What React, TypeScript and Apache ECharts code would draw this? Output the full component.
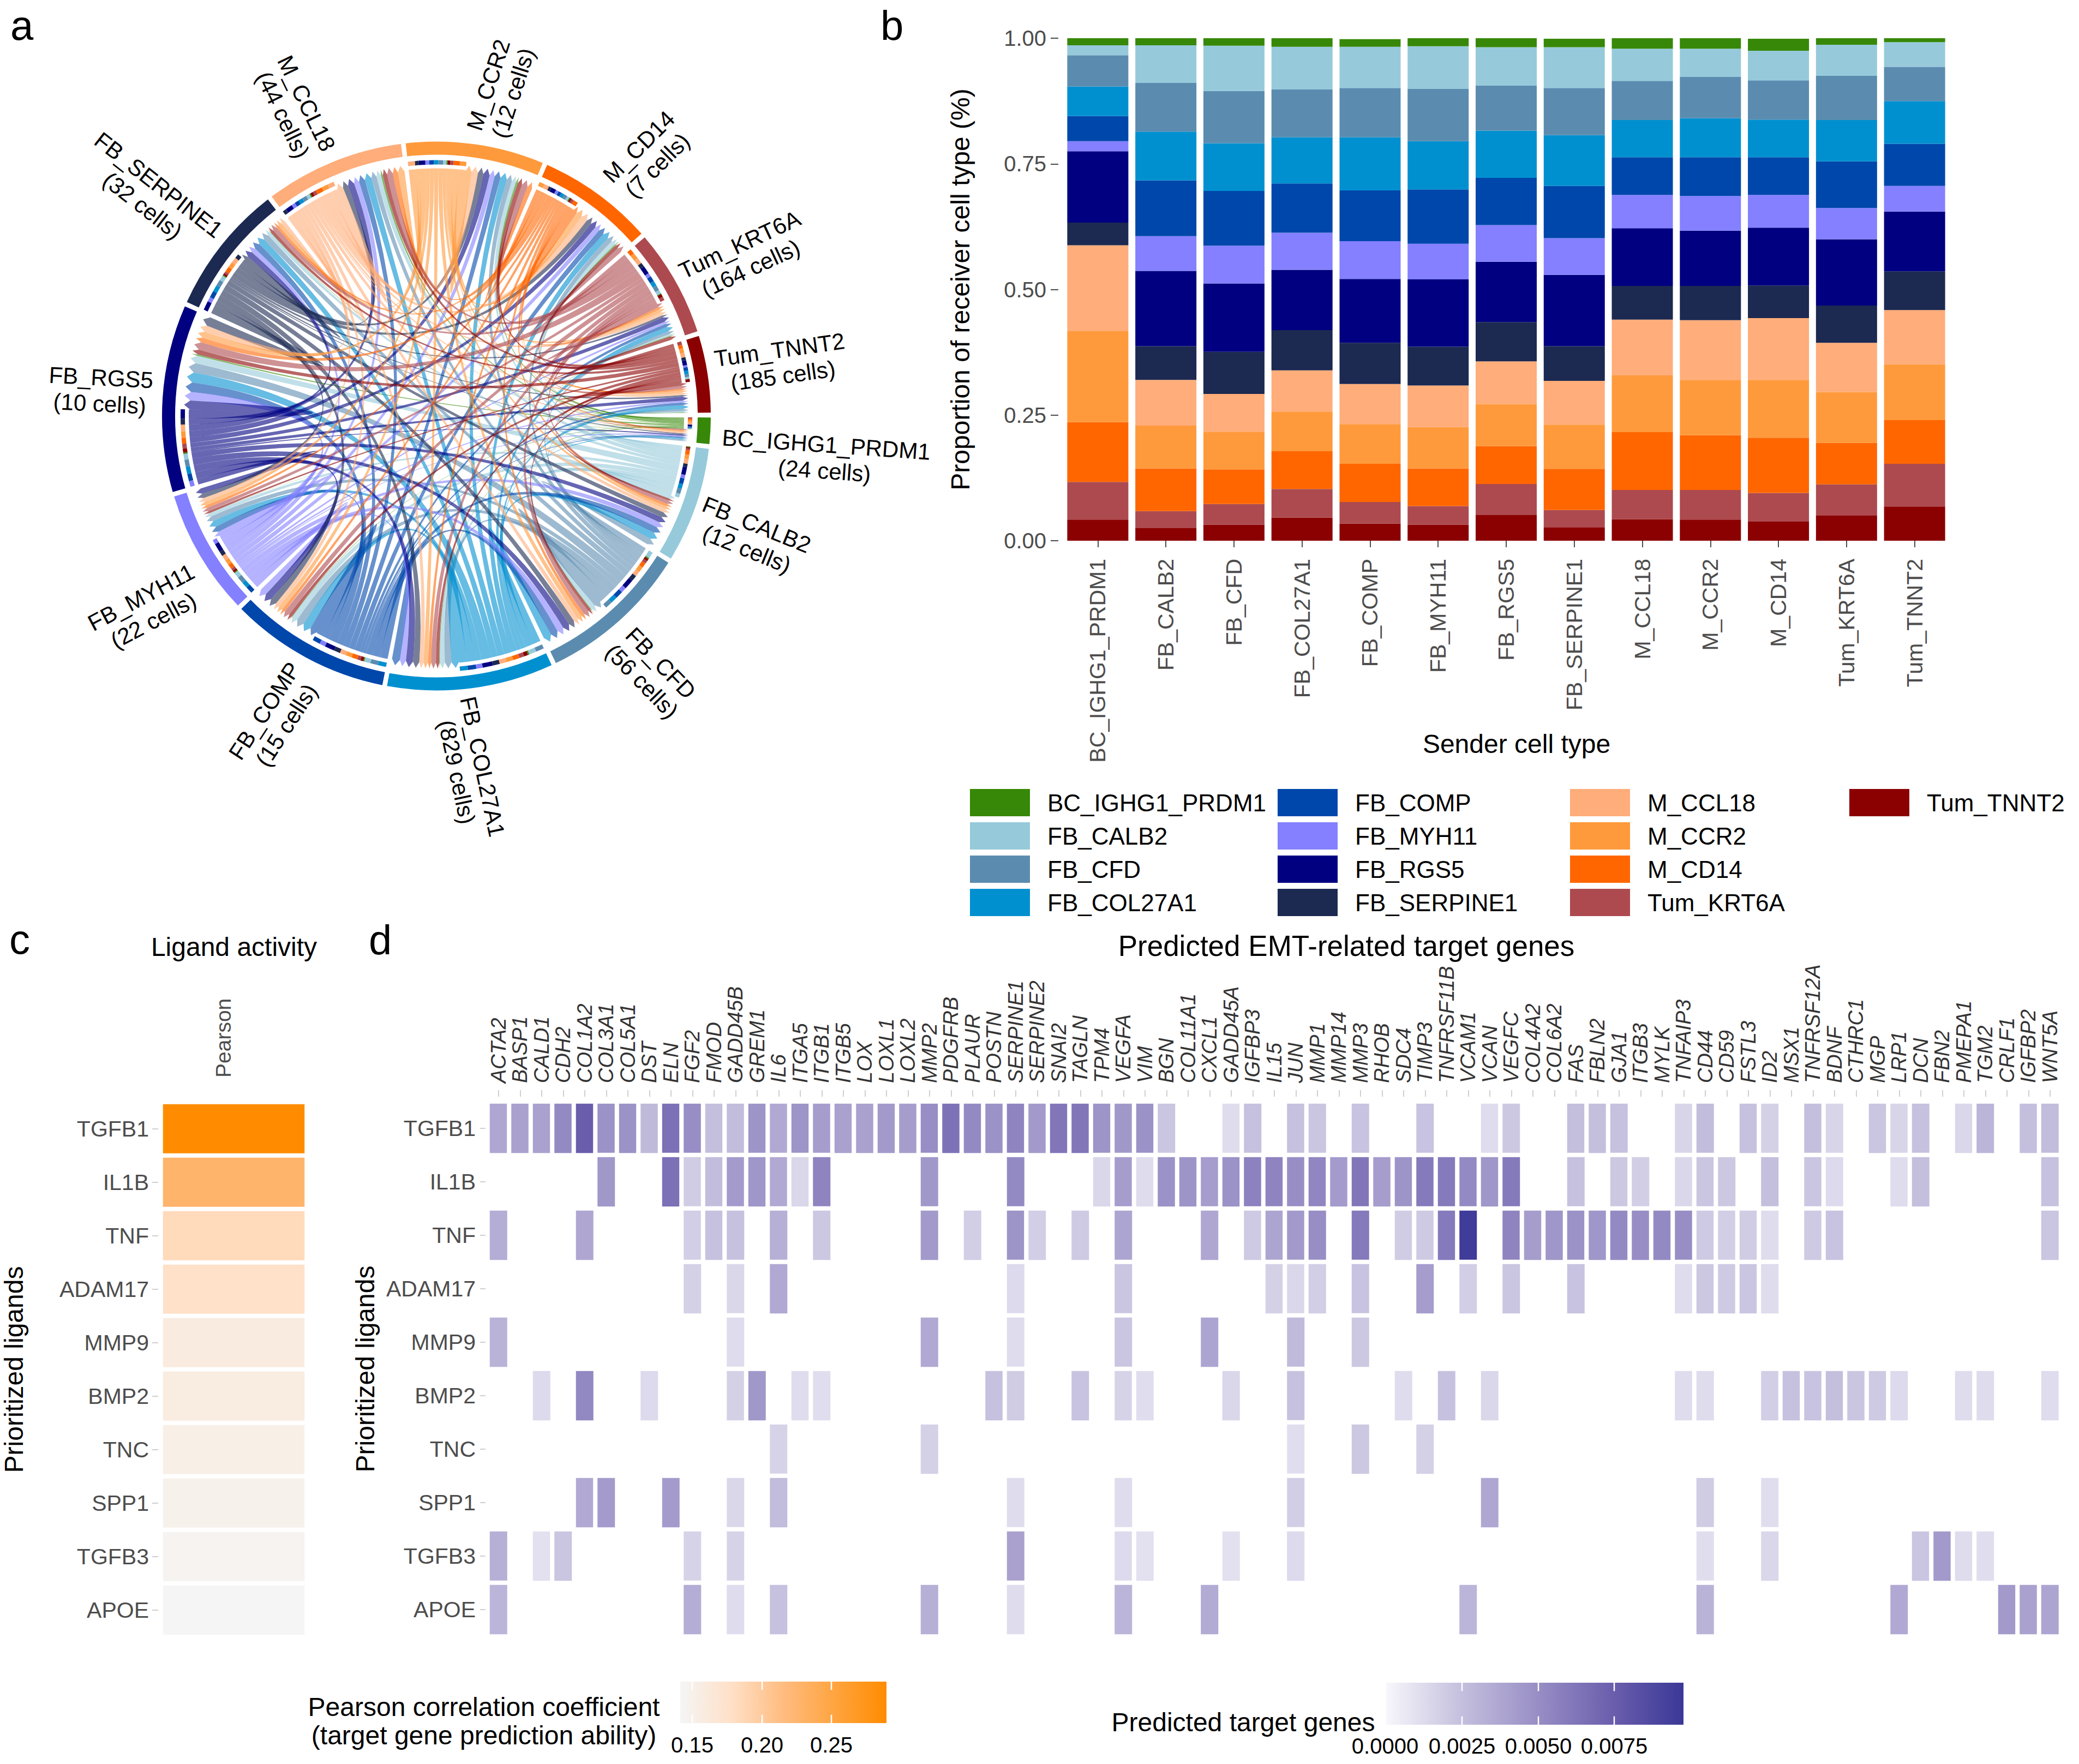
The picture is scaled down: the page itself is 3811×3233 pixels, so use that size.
import React, { useEffect, useRef } from "react";
import * as echarts from "echarts";

const FONT = "Liberation Sans";
const W = 3811;
const H = 3233;

const cellTypes = ["BC_IGHG1_PRDM1","FB_CALB2","FB_CFD","FB_COL27A1","FB_COMP","FB_MYH11","FB_RGS5","FB_SERPINE1","M_CCL18","M_CCR2","M_CD14","Tum_KRT6A","Tum_TNNT2"];
const cellColors = ["#378808","#96cadb","#5b8cb0","#0090d0","#0047ab","#8480ff","#000080","#1c2951","#ffad7a","#ff9a3c","#ff6600","#ad4a4f","#8b0000"];
const cellCounts = ["(24 cells)","(12 cells)","(56 cells)","(829 cells)","(15 cells)","(22 cells)","(10 cells)","(32 cells)","(44 cells)","(12 cells)","(7 cells)","(164 cells)","(185 cells)"];

const shareBC = [.017,.014,.017,.017,.015,.016,.018,.017,.021,.021,.024,.013,.009];
const shareCALB2 = [.020,.075,.090,.085,.082,.085,.076,.081,.064,.056,.059,.062,.049];
const shareCFD = [.062,.097,.104,.095,.098,.104,.090,.094,.078,.082,.078,.088,.068];
const shareCOL27A1 = [.059,.097,.095,.092,.106,.096,.094,.101,.074,.078,.075,.082,.085];
const shareCOMP = [.050,.111,.109,.098,.101,.108,.094,.104,.075,.077,.075,.093,.084];
const shareMYH11 = [.020,.069,.075,.074,.075,.071,.073,.073,.066,.069,.065,.062,.051];
const shareRGS5 = [.142,.150,.136,.120,.127,.134,.120,.142,.115,.110,.115,.132,.119];
const shareSERPINE1 = [.045,.067,.084,.080,.082,.077,.078,.069,.067,.068,.065,.074,.077];
const shareCCL18 = [.171,.091,.075,.082,.080,.083,.085,.087,.111,.119,.123,.098,.108];
const shareCCR2 = [.181,.085,.075,.079,.079,.082,.084,.088,.113,.110,.115,.101,.111];
const shareCD14 = [.119,.085,.069,.075,.076,.075,.075,.082,.115,.109,.110,.083,.087];
const shareKRT6A = [.075,.034,.041,.057,.043,.037,.062,.034,.058,.059,.057,.062,.085];
const shareTNNT2 = [.042,.025,.032,.046,.034,.032,.051,.027,.043,.042,.038,.050,.068];
const receiverShares = [shareBC,shareCALB2,shareCFD,shareCOL27A1,shareCOMP,shareMYH11,shareRGS5,shareSERPINE1,shareCCL18,shareCCR2,shareCD14,shareKRT6A,shareTNNT2];

const senderWeights = [2.7,12,16.5,20,18,15,18,15,13.5,13.5,10,14,9.5];

const ligands = ["TGFB1","IL1B","TNF","ADAM17","MMP9","BMP2","TNC","SPP1","TGFB3","APOE"];
const pearson = [.2895,.2274,.1847,.178,.1584,.158,.1525,.1488,.1454,.1414];

const genes = ["ACTA2","BASP1","CALD1","CDH2","COL1A2","COL3A1","COL5A1","DST","ELN","FGF2","FMOD","GADD45B","GREM1","IL6","ITGA5","ITGB1","ITGB5","LOX","LOXL1","LOXL2","MMP2","PDGFRB","PLAUR","POSTN","SERPINE1","SERPINE2","SNAI2","TAGLN","TPM4","VEGFA","VIM","BGN","COL11A1","CXCL1","GADD45A","IGFBP3","IL15","JUN","MMP1","MMP14","MMP3","RHOB","SDC4","TIMP3","TNFRSF11B","VCAM1","VCAN","VEGFC","COL4A2","COL6A2","FAS","FBLN2","GJA1","ITGB3","MYLK","TNFAIP3","CD44","CD59","FSTL3","ID2","MSX1","TNFRSF12A","BDNF","CTHRC1","MGP","LRP1","DCN","FBN2","PMEPA1","TGM2","CRLF1","IGFBP2","WNT5A"];
const rowTGFB1 = [[1,.0037],[2,.0040],[3,.0040],[4,.0052],[5,.0075],[6,.0048],[7,.0048],[8,.0028],[9,.0065],[10,.0050],[11,.0025],[12,.0026],[13,.0047],[14,.0036],[15,.0047],[16,.0042],[17,.0040],[18,.0040],[19,.0044],[20,.0042],[21,.0050],[22,.0064],[23,.0052],[24,.0048],[25,.0055],[26,.0044],[27,.0062],[28,.0062],[29,.0047],[30,.0045],[31,.0048],[32,.0022],[35,.0012],[36,.0024],[38,.0024],[39,.0022],[41,.0023],[44,.0023],[47,.0012],[48,.0021],[51,.0025],[52,.0025],[53,.0024],[56,.0015],[57,.0026],[59,.0024],[60,.0017],[62,.0025],[63,.0015],[65,.0022],[66,.0015],[67,.0024],[69,.0014],[70,.0030],[72,.0025],[73,.0026]];
const rowIL1B = [[6,.0045],[9,.0065],[10,.0019],[11,.0026],[12,.0043],[13,.0046],[14,.0036],[15,.0014],[16,.0055],[21,.0045],[25,.0052],[29,.0014],[30,.0042],[31,.0012],[32,.0048],[33,.0047],[34,.0042],[35,.0048],[36,.0056],[37,.0055],[38,.0050],[39,.0054],[40,.0043],[41,.0062],[42,.0042],[43,.0047],[44,.0060],[45,.0060],[46,.0052],[47,.0046],[48,.0060],[51,.0024],[53,.0021],[54,.0018],[56,.0014],[57,.0022],[58,.0021],[60,.0025],[62,.0022],[63,.0013],[66,.0012],[67,.0025],[73,.0024]];
const rowTNF = [[1,.0034],[5,.0037],[10,.0018],[11,.0024],[12,.0024],[14,.0033],[16,.0021],[21,.0044],[23,.0018],[25,.0047],[26,.0018],[28,.0020],[30,.0038],[34,.0037],[36,.0020],[37,.0038],[38,.0044],[39,.0050],[41,.0060],[43,.0019],[44,.0020],[45,.0060],[46,.0095],[48,.0055],[49,.0042],[50,.0046],[51,.0048],[52,.0046],[53,.0052],[54,.0050],[55,.0052],[56,.0050],[57,.0020],[58,.0018],[59,.0019],[60,.0012],[62,.0020],[63,.0023],[73,.0022]];
const rowADAM17 = [[10,.0017],[12,.0014],[14,.0036],[25,.0013],[30,.0022],[37,.0017],[38,.0014],[39,.0018],[41,.0023],[44,.0042],[46,.0018],[48,.0022],[51,.0023],[56,.0012],[57,.0021],[58,.0020],[59,.0022],[60,.0012]];
const rowMMP9 = [[1,.0031],[12,.0012],[21,.0036],[25,.0012],[30,.0022],[34,.0038],[38,.0027],[41,.0021]];
const rowBMP2 = [[3,.0013],[5,.0053],[8,.0013],[12,.0017],[13,.0045],[15,.0012],[16,.0011],[24,.0024],[25,.0019],[28,.0023],[30,.0016],[31,.0011],[35,.0014],[38,.0024],[43,.0012],[45,.0024],[47,.0014],[56,.0012],[57,.0012],[60,.0018],[61,.0024],[62,.0023],[63,.0025],[64,.0022],[65,.0020],[66,.0013],[69,.0012],[70,.0012],[73,.0012]];
const rowTNC = [[14,.0016],[21,.0017],[38,.0011],[41,.0021],[44,.0017]];
const rowSPP1 = [[5,.0036],[6,.0043],[9,.0043],[12,.0014],[14,.0026],[25,.0012],[30,.0012],[38,.0018],[47,.0037],[57,.0019],[60,.0011]];
const rowTGFB3 = [[1,.0033],[3,.0010],[4,.0022],[10,.0016],[12,.0016],[25,.0040],[30,.0013],[31,.0010],[35,.0010],[38,.0013],[57,.0011],[60,.0014],[67,.0022],[68,.0044],[69,.0012],[70,.0011]];
const rowAPOE = [[1,.0030],[10,.0034],[12,.0012],[14,.0024],[21,.0033],[25,.0012],[30,.0030],[34,.0035],[46,.0030],[57,.0031],[66,.0036],[71,.0044],[72,.0040],[73,.0038]];
const ligandRows = [rowTGFB1,rowIL1B,rowTNF,rowADAM17,rowMMP9,rowBMP2,rowTNC,rowSPP1,rowTGFB3,rowAPOE];

const orangeStops = ["#f5f5f5","#ffe0c7","#ffbc80","#ffa43f","#ff8c00"];
const purpleStops = ["#f7f7fb","#c5c0de","#9a90c6","#6d60ae","#3a3897"];

const CX = 800, CY = 762.5;
const R_RING_OUT = 503, R_RING_IN = 479, R_TRACK_OUT = 469, R_TRACK_IN = 461, R_LINK = 454, R_TIP = 463, R_BASE = 452;
const GAP = 1, START = 0.3;

const pt = (r: number, deg: number) => {
  const t = (deg * Math.PI) / 180;
  return [+(CX + r * Math.cos(t)).toFixed(2), +(CY + r * Math.sin(t)).toFixed(2)];
};
const band = (r0: number, r1: number, a0: number, a1: number) => {
  const p0 = pt(r1, a0), p1 = pt(r1, a1), p2 = pt(r0, a1), p3 = pt(r0, a0);
  const large = a1 - a0 > 180 ? 1 : 0;
  return `M${p0} A${r1} ${r1} 0 ${large} 1 ${p1} L${p2} A${r0} ${r0} 0 ${large} 0 ${p3} Z`;
};

function buildChord() {
  const n = cellTypes.length;
  const inW = cellTypes.map((_, j) => senderWeights.reduce((s, w, i) => s + w * receiverShares[j][i], 0));
  const total = senderWeights.reduce((s, w, i) => s + w + inW[i], 0);
  const k = (360 - n * GAP) / total;
  const items: { d: string; fill: string; opacity: number }[] = [];
  const outSeg: number[][][] = [], inSeg: number[][][] = [];
  let cur = START;
  const rings: { d: string; fill: string; opacity: number }[] = [];
  for (let i = 0; i < n; i++) {
    const s0 = cur;
    outSeg[i] = []; inSeg[i] = [];
    const order: number[] = [];
    for (let m = 1; m < n; m++) order.push((i - m + n) % n);
    for (const j of [...order, i]) {
      const w = senderWeights[i] * receiverShares[j][i] * k;
      outSeg[i][j] = [cur, cur + w];
      cur += w;
    }
    for (const j of [i, ...order]) {
      const w = senderWeights[j] * receiverShares[i][j] * k;
      inSeg[i][j] = [cur, cur + w];
      cur += w;
    }
    rings.push({ d: band(R_RING_IN, R_RING_OUT, s0, cur), fill: cellColors[i], opacity: 1 });
    cur += GAP;
  }
  for (let i = 0; i < n; i++) {
    for (let j = 0; j < n; j++) {
      const [a1, a2] = outSeg[i][j];
      const [b1, b2] = inSeg[j][i];
      const A1 = pt(R_LINK, a1), A2 = pt(R_LINK, a2);
      const B1 = pt(R_BASE, b1), B2 = pt(R_BASE, b2), T = pt(R_TIP, (b1 + b2) / 2);
      items.push({
        d: `M${A1} A${R_LINK} ${R_LINK} 0 0 1 ${A2} Q${CX} ${CY} ${B1} L${T} L${B2} Q${CX} ${CY} ${A1} Z`,
        fill: cellColors[i],
        opacity: 0.6,
      });
    }
  }
  for (let i = 0; i < n; i++) {
    for (let j = 0; j < n; j++) {
      const [a1, a2] = outSeg[i][j];
      items.push({ d: band(R_TRACK_IN, R_TRACK_OUT, a1, a2), fill: cellColors[j], opacity: 1 });
    }
  }
  return [...items, ...rings];
}

const sectorLabelPlaces = [[1513,839,-4],[1378,984,-22],[1194,1232,-46],[861,1410,-78],[505,1316,57],[270,1116,28],[184,716,-3],[276,358,-38],[540,200,-64],[918,163,72],[1188,286,45],[1366,470,25],[1432,665,8]];

const legendCols = [cellTypes.slice(0, 4), cellTypes.slice(4, 8), cellTypes.slice(8, 12), cellTypes.slice(12)];
const legendLefts = [1778, 2342, 2878, 3390];

const txt = (text: string, x: number, y: number, fontSize: number, extra: any = {}, elExtra: any = {}) => ({
  type: "text", x, y, silent: true, ...elExtra,
  style: { text, fontSize, fontFamily: FONT, fill: "#000", textAlign: "center", textVerticalAlign: "middle", ...extra },
});

function gradientBar(x0: number, x1: number, y0: number, y1: number, stops: string[], ticks: number[]) {
  const els: any[] = [{
    type: "rect", silent: true, shape: { x: x0, y: y0, width: x1 - x0, height: y1 - y0 },
    style: { fill: new echarts.graphic.LinearGradient(0, 0, 1, 0, stops.map((c, i) => ({ offset: i / (stops.length - 1), color: c }))) },
  }];
  const th = (y1 - y0) / 5;
  ticks.forEach((x) => {
    els.push({ type: "line", silent: true, shape: { x1: x, y1: y0, x2: x, y2: y0 + th }, style: { stroke: "#fff", lineWidth: 2.5 } });
    els.push({ type: "line", silent: true, shape: { x1: x, y1: y1 - th, x2: x, y2: y1 }, style: { stroke: "#fff", lineWidth: 2.5 } });
  });
  return els;
}

function buildOption() {
  const chord = buildChord();
  const greyText = "#4d4d4d";
  const bars = cellTypes.map((name, j) => ({ j, name })).reverse().map(({ j, name }) => ({
    name, type: "bar", stack: "share", xAxisIndex: 0, yAxisIndex: 0, barWidth: 112,
    data: receiverShares[j], itemStyle: { color: cellColors[j] },
  }));
  const activityData = pearson.map((v, i) => [0, i, v]);
  const targetData: number[][] = [];
  ligandRows.forEach((row, r) => row.forEach(([g, v]) => targetData.push([g - 1, r, v])));
  const series: any[] = [
    ...bars,
    {
      name: "Ligand activity", type: "heatmap", xAxisIndex: 1, yAxisIndex: 1, data: activityData,
      itemStyle: { borderColor: "#fff", borderWidth: 8 },
    },
    {
      name: "Predicted target genes", type: "heatmap", xAxisIndex: 2, yAxisIndex: 2, data: targetData,
      itemStyle: { borderColor: "#fff", borderWidth: 8 },
    },
    {
      name: "Sector links", type: "custom", coordinateSystem: "none", silent: true,
      data: chord.map((_, i) => [i]),
      renderItem: (params: any) => {
        const it = chord[params.dataIndex];
        return { type: "path", shape: { pathData: it.d }, style: { fill: it.fill, opacity: it.opacity } };
      },
    },
  ];
  const hm = series.length - 3;
  const graphic: any[] = [
    txt("a", 19, 46, 76, { textAlign: "left" }),
    txt("b", 1614, 46, 76, { textAlign: "left" }),
    txt("c", 17, 1721, 76, { textAlign: "left" }),
    txt("d", 676, 1722, 76, { textAlign: "left" }),
    txt("Sender cell type", 2780, 1363, 48),
    txt("Ligand activity", 429, 1735, 48),
    txt("Predicted EMT-related target genes", 2468, 1733, 53),
    txt("Pearson correlation coefficient\n(target gene prediction ability)", 887, 3154, 48, { lineHeight: 52 }),
    txt("Predicted target genes", 2279, 3156, 48),
    ...gradientBar(1247, 1625, 3082, 3158, orangeStops, [1269, 1397, 1524]),
    ...gradientBar(2541, 3086, 3084, 3161, purpleStops, [2680, 2820, 2959]),
    txt("0.15", 1269, 3198, 40), txt("0.20", 1397, 3198, 40), txt("0.25", 1524, 3198, 40),
    txt("0.0000", 2539, 3200, 40), txt("0.0025", 2680, 3200, 40), txt("0.0050", 2820, 3200, 40), txt("0.0075", 2959, 3200, 40),
    ...cellTypes.map((name, i) => {
      const [x, y, rot] = sectorLabelPlaces[i];
      return txt(`${name}\n${cellCounts[i]}`, x, y, 42, { lineHeight: 48 }, { rotation: (rot * Math.PI) / 180 });
    }),
  ];
  return {
    animation: false,
    backgroundColor: "#fff",
    textStyle: { fontFamily: FONT },
    legend: legendCols.map((data, i) => ({
      data, left: legendLefts[i], top: 1446, orient: "vertical", icon: "rect", itemWidth: 110, itemHeight: 50, itemGap: 11,
      padding: 0, selectedMode: false, textStyle: { fontSize: 44, fontFamily: FONT, color: "#000", padding: [0, 0, 0, 27], verticalAlign: "bottom", lineHeight: 10 },
    })),
    grid: [
      { left: 1950, top: 70, width: 1622, height: 921 },
      { left: 294, top: 2020, width: 268, height: 980 },
      { left: 894, top: 2019, width: 2883.5, height: 980 },
    ],
    xAxis: [
      {
        gridIndex: 0, type: "category", data: cellTypes, offset: 14,
        axisLine: { show: false }, axisTick: { show: true, length: 12, alignWithLabel: true, lineStyle: { color: greyText, width: 2 } },
        axisLabel: { rotate: 90, interval: 0, margin: 19, fontSize: 41, color: greyText, fontFamily: FONT },
      },
      {
        gridIndex: 1, type: "category", position: "top", data: ["Pearson"],
        axisLine: { show: false }, axisTick: { show: false },
        axisLabel: { rotate: -90, interval: 0, margin: 45, fontSize: 39, color: greyText, fontFamily: FONT, verticalAlign: "bottom" },
      },
      {
        gridIndex: 2, type: "category", position: "top", data: genes, offset: 9,
        axisLine: { show: false }, axisTick: { show: true, length: 12, alignWithLabel: true, lineStyle: { color: "#d0d0d0", width: 2 } },
        axisLabel: { rotate: -90, interval: 0, margin: 25, fontSize: 38, fontStyle: "italic", color: "#333", fontFamily: FONT },
      },
    ],
    yAxis: [
      {
        gridIndex: 0, type: "value", min: 0, max: 1, interval: 0.25, offset: 10,
        name: "Proportion of receiver cell type (%)", nameLocation: "middle", nameGap: 156, nameRotate: 90,
        nameTextStyle: { fontSize: 48, color: "#000", fontFamily: FONT },
        splitLine: { show: false }, axisLine: { show: false },
        axisTick: { show: true, length: 14, lineStyle: { color: greyText, width: 2 } },
        axisLabel: { margin: 22, fontSize: 40, color: greyText, fontFamily: FONT, formatter: (v: number) => v.toFixed(2) },
      },
      {
        gridIndex: 1, type: "category", inverse: true, data: ligands, offset: 5,
        name: "Prioritized ligands", nameLocation: "middle", nameGap: 241, nameRotate: 90,
        nameTextStyle: { fontSize: 48, color: "#000", fontFamily: FONT },
        axisLine: { show: false }, axisTick: { show: true, length: 11, alignWithLabel: true, lineStyle: { color: "#d0d0d0", width: 2 } },
        axisLabel: { interval: 0, margin: 17, fontSize: 41, color: greyText, fontFamily: FONT },
      },
      {
        gridIndex: 2, type: "category", inverse: true, data: ligands, offset: 4,
        name: "Prioritized ligands", nameLocation: "middle", nameGap: 197, nameRotate: 90,
        nameTextStyle: { fontSize: 48, color: "#000", fontFamily: FONT },
        axisLine: { show: false }, axisTick: { show: true, length: 10, alignWithLabel: true, lineStyle: { color: "#d0d0d0", width: 2 } },
        axisLabel: { interval: 0, margin: 18, fontSize: 41, color: greyText, fontFamily: FONT },
      },
    ],
    visualMap: [
      { show: false, type: "continuous", seriesIndex: hm, min: 0.1414, max: 0.2895, dimension: 2, inRange: { color: orangeStops } },
      { show: false, type: "continuous", seriesIndex: hm + 1, min: 0, max: 0.00977, dimension: 2, inRange: { color: purpleStops } },
    ],
    series,
    graphic,
  };
}

export default function App() {
  const ref = useRef<HTMLDivElement>(null);
  useEffect(() => {
    const chart = echarts.init(ref.current!, null, { renderer: "svg" });
    chart.setOption(buildOption() as any);
    return () => chart.dispose();
  }, []);
  return <div ref={ref} style={{ position: "absolute", left: 0, top: 0, width: W, height: H }} />;
}
